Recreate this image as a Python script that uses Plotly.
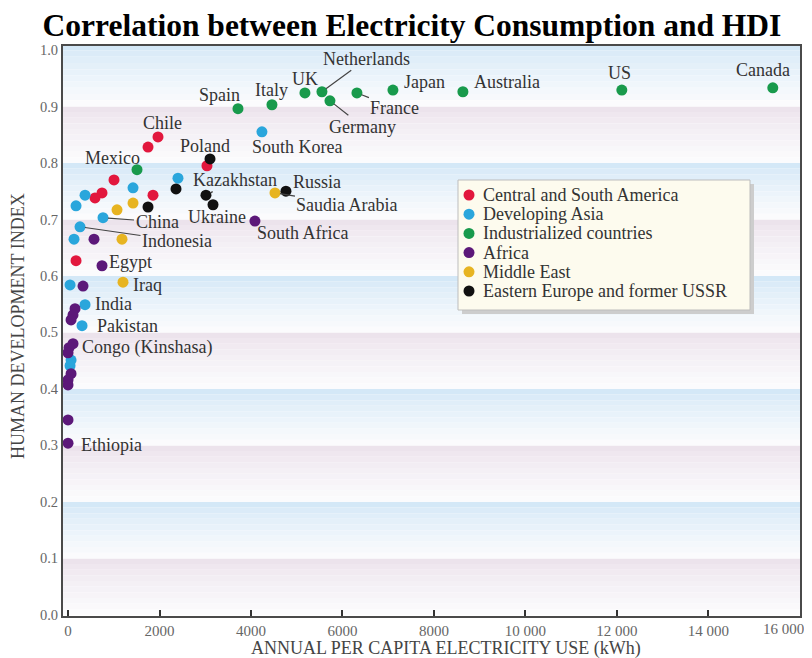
import plotly.graph_objects as go

# ---------------- data ----------------
groups = ["Central and South America", "Developing Asia", "Industrialized countries",
          "Africa", "Middle East", "Eastern Europe and former USSR"]

csa_kwh = [1967, 1749, 3038, 1005, 743, 590, 1858, 175]
csa_hdi = [0.846, 0.828, 0.795, 0.770, 0.747, 0.738, 0.743, 0.627]
csa_lab = ["Chile", "", "", "Mexico", "", "", "", ""]

asia_kwh = [4240, 2404, 1421, 372, 175, 765, 262, 131, 44, 372, 306, 66, 44]
asia_hdi = [0.855, 0.773, 0.756, 0.743, 0.724, 0.703, 0.687, 0.665, 0.584, 0.549, 0.512, 0.451, 0.441]
asia_lab = ["South Korea", "", "", "", "", "China", "Indonesia", "", "", "India", "Pakistan", "", ""]

ind_kwh = [1508, 3716, 4459, 5180, 5552, 5727, 6317, 7104, 8634, 12109, 15410]
ind_hdi = [0.788, 0.896, 0.903, 0.924, 0.926, 0.910, 0.924, 0.929, 0.926, 0.929, 0.933]
ind_lab = ["", "Spain", "Italy", "UK", "Netherlands", "Germany", "France", "Japan",
           "Australia", "US", "Canada"]

afr_kwh = [4087, 568, 743, 328, 153, 109, 66, 109, 22, 0, 66, 0, 0, 0, 0]
afr_hdi = [0.697, 0.665, 0.618, 0.582, 0.542, 0.531, 0.522, 0.480, 0.473, 0.464,
           0.427, 0.416, 0.407, 0.345, 0.304]
afr_lab = ["South Africa", "", "Egypt", "", "", "", "", "Congo (Kinshasa)", "", "", "",
           "", "", "", "Ethiopia"]

me_kwh = [4525, 1421, 1071, 1180, 1202]
me_hdi = [0.747, 0.729, 0.717, 0.665, 0.589]
me_lab = ["Saudia Arabia", "", "", "", "Iraq"]

ee_kwh = [3104, 2361, 3016, 3170, 1749, 4765]
ee_hdi = [0.807, 0.754, 0.743, 0.726, 0.722, 0.750]
ee_lab = ["Poland", "", "Kazakhstan", "Ukraine", "", "Russia"]

x_ticks = [0, 2000, 4000, 6000, 8000, 10000, 12000, 14000, 16000]
x_tick_text = ["0", "2000", "4000", "6000", "8000", "10 000", "12 000", "14 000", "16 000"]
y_ticks = [0.0, 0.1, 0.2, 0.3, 0.4, 0.5, 0.6, 0.7, 0.8, 0.9, 1.0]
y_tick_text = ["0.0", "0.1", "0.2", "0.3", "0.4", "0.5", "0.6", "0.7", "0.8", "0.9", "1.0"]

# ---------------- styles ----------------
colors = ["#e2173d", "#2aa6dc", "#189a4c", "#5c1879", "#e7b421", "#111111"]
FONT = "Liberation Serif"
LBL = 18

W, H = 812, 658
OFF = 8  # the page body adds an 8 px margin; place everything in window pixels
# plot frame in window pixels: left 63, right 800, top 46, bottom 616
ML = 63 - OFF
MT = 46 - OFF
MR = W - (800 - OFF)
MB = H - (616 - OFF)
PW, PH = W - ML - MR, H - MT - MB


def px2paper(px, py):
    """window pixel -> paper coordinates"""
    fx, fy = px - OFF, py - OFF
    return (fx - ML) / PW, (H - MB - fy) / PH


# label placement: (dx, dy, leader-line?) in pixels relative to the point
label_pos = {
    "Spain": (-18, -14, False), "Italy": (0, -15, False), "UK": (0, -14, False),
    "Netherlands": (45, -33, True), "Japan": (32, -8, False), "France": (38, 15, True),
    "Germany": (33, 26, True), "Australia": (44, -10, False), "US": (-2, -17, False),
    "Canada": (-10, -18, False), "South Korea": (35, 15, False), "Chile": (5, -14, False),
    "Poland": (-5, -13, False), "Mexico": (-1, -22, False), "Kazakhstan": (29, -15, True),
    "Ukraine": (4, 12, False), "Russia": (31, -9, False), "Saudia Arabia": (72, 12, True),
    "South Africa": (48, 12, False), "China": (54, 4, True), "Indonesia": (97, 14, True),
    "Egypt": (28, -4, False), "Iraq": (24, 3, False), "India": (28, -1, False),
    "Pakistan": (45, 0, False), "Congo (Kinshasa)": (74, 4, False),
    "Ethiopia": (43, 2, False),
}

series = [(csa_kwh, csa_hdi, csa_lab), (asia_kwh, asia_hdi, asia_lab),
          (ind_kwh, ind_hdi, ind_lab), (afr_kwh, afr_hdi, afr_lab),
          (me_kwh, me_hdi, me_lab), (ee_kwh, ee_hdi, ee_lab)]

fig = go.Figure()

# gradient background bands
blue_top = (212, 232, 247)
pink_top = (236, 227, 236)
white = (251, 251, 253)
N = 10
for i in range(10):
    extra = 0.01 if i == 9 else 0
    top = (i + 1) / 10 + extra
    h = (0.1 + extra) / N
    c0 = blue_top if i % 2 == 1 else pink_top
    for k in range(N):
        t = (k / (N - 1)) ** 0.8
        c = tuple(round(c0[j] * (1 - t) + white[j] * t) for j in range(3))
        fig.add_shape(type="rect", xref="paper", yref="y", x0=0, x1=1,
                      y0=top - (k + 1) * h, y1=top - k * h,
                      fillcolor="rgb(%d,%d,%d)" % c, line_width=0, layer="below")

annotations = []
for name, col, (xs, ys, labs) in zip(groups, colors, series):
    fig.add_trace(go.Scatter(x=xs, y=ys, mode="markers", name=name, showlegend=False,
                             marker=dict(color=col, size=11, line=dict(width=0)),
                             cliponaxis=False))
    for xv, yv, lab in zip(xs, ys, labs):
        if not lab:
            continue
        dx, dy, line = label_pos[lab]
        if line:
            annotations.append(dict(x=xv, y=yv, xref="x", yref="y", text=lab,
                                    showarrow=True, arrowhead=0, arrowwidth=1.2,
                                    arrowcolor="#444", ax=dx, ay=dy, standoff=5,
                                    font=dict(family=FONT, size=LBL, color="#333")))
        else:
            annotations.append(dict(x=xv, y=yv, xref="x", yref="y", text=lab,
                                    showarrow=False, xshift=dx, yshift=-dy,
                                    font=dict(family=FONT, size=LBL, color="#333")))

# custom legend box (matches the reference's compact legend)
bx0, by0 = px2paper(458, 310)
bx1, by1 = px2paper(750, 180)
sx, sy = 4 / PW, 4 / PH
fig.add_shape(type="rect", xref="paper", yref="paper", x0=bx0 + sx, x1=bx1 + sx,
              y0=by0 - sy, y1=by1 - sy, fillcolor="#cdcdcd", line_width=0)
fig.add_shape(type="rect", xref="paper", yref="paper", x0=bx0, x1=bx1, y0=by0, y1=by1,
              fillcolor="#fdfbee", line=dict(color="#bdbdbd", width=1))
for i, (name, col) in enumerate(zip(groups, colors)):
    mx, my = px2paper(469, 195 + 19.2 * i)
    fig.add_shape(type="circle", xref="paper", yref="paper", xsizemode="pixel",
                  ysizemode="pixel", xanchor=mx, yanchor=my, x0=-5.5, x1=5.5,
                  y0=-5.5, y1=5.5, fillcolor=col, line_width=0)
    tx, ty = px2paper(481, 195 + 19.2 * i)
    annotations.append(dict(x=tx, y=ty, xref="paper", yref="paper", text=name,
                            showarrow=False, xanchor="left", yanchor="middle",
                            font=dict(family=FONT, size=18, color="#333")))

# last x tick label sits inside the window edge, as in the reference
lx, ly = px2paper(783, 629)
annotations.append(dict(x=lx, y=ly, xref="paper", yref="paper", showarrow=False,
                        text=x_tick_text[-1], xanchor="center", yanchor="middle",
                        font=dict(family=FONT, size=15, color="#666")))
x_tick_text_axis = x_tick_text[:-1] + [""]

# axis titles
ax_x, ax_y = px2paper(446, 648)
annotations.append(dict(x=ax_x, y=ax_y, xref="paper", yref="paper", showarrow=False,
                        text="ANNUAL PER CAPITA ELECTRICITY USE (kWh)", yanchor="middle",
                        font=dict(family=FONT, size=18, color="#444")))
ay_x, ay_y = px2paper(18, 326)
annotations.append(dict(x=ay_x, y=ay_y, xref="paper", yref="paper", showarrow=False,
                        text="HUMAN DEVELOPMENT INDEX", textangle=-90, xanchor="center",
                        yanchor="middle", font=dict(family=FONT, size=18, color="#444")))

title_x = (412 - OFF) / W
title_y = 1 - (25 - OFF) / H

fig.update_layout(
    width=W, height=H,
    margin=dict(l=ML, r=MR, t=MT, b=MB, autoexpand=False),
    paper_bgcolor="white", plot_bgcolor="white",
    title=dict(text="<b>Correlation between Electricity Consumption and HDI</b>",
               x=title_x, xanchor="center", y=title_y, yanchor="middle", yref="container",
               font=dict(family=FONT, size=31.5, color="black")),
    xaxis=dict(range=[-110, 16005], tickvals=x_ticks, ticktext=x_tick_text_axis,
               automargin=False,
               showgrid=False, zeroline=False, showline=True, mirror=True,
               linecolor="#4a4a4a", linewidth=2, ticks="inside", ticklen=6,
               tickwidth=1.5, tickcolor="#333",
               tickfont=dict(family=FONT, size=15, color="#666")),
    yaxis=dict(range=[-0.002, 1.007], tickvals=y_ticks, ticktext=y_tick_text,
               automargin=False,
               showgrid=False, zeroline=False, showline=True, mirror=True,
               linecolor="#4a4a4a", linewidth=2, ticks="",
               tickfont=dict(family=FONT, size=14.5, color="#666")),
    annotations=annotations,
    showlegend=False,
)

fig.write_html("out.html")
